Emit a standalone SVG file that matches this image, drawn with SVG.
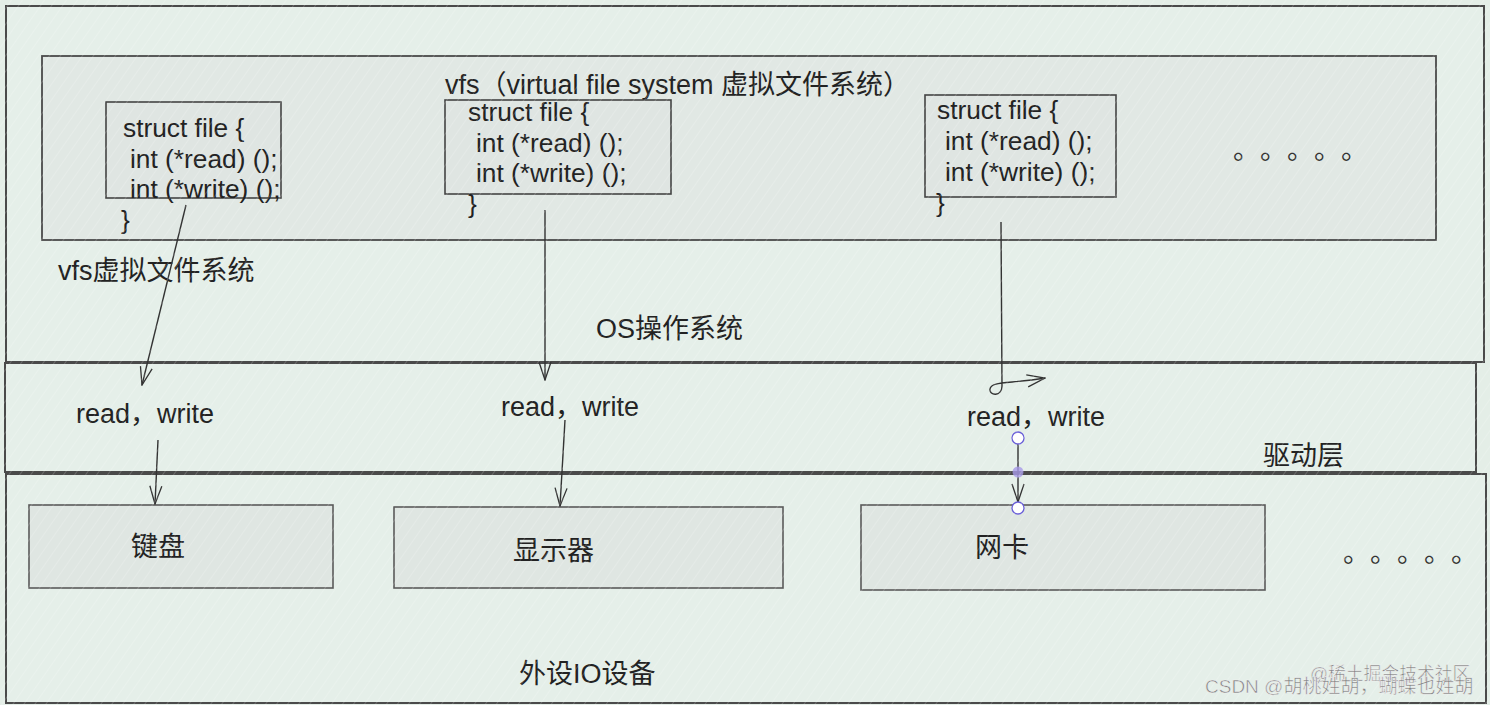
<svg xmlns="http://www.w3.org/2000/svg" width="1490" height="705" viewBox="0 0 1490 705">
<defs>
<pattern id="hatch" width="9" height="9" patternUnits="userSpaceOnUse" patternTransform="rotate(35)">
<line x1="0" y1="0" x2="0" y2="9" stroke="#ffffff" stroke-width="1" stroke-opacity="0.35"/>
</pattern>
<marker id="arr" viewBox="0 0 20 14" refX="19" refY="7" markerWidth="20" markerHeight="14" markerUnits="userSpaceOnUse" orient="auto">
<path d="M1,1 L19,7 L1,13" fill="none" stroke="#333" stroke-width="1.3"/>
</marker>
</defs>
<style>
.layer{fill:#e5efe9;stroke:#4a4a4a;stroke-width:2}
.vfs{fill:#e1e8e4;stroke:#4a4a4a;stroke-width:1.8}
.sbox{fill:#dfe5e2;stroke:#444;stroke-width:1.6}
.dev{fill:#dfe6e2;stroke:#5a5a5a;stroke-width:1.6}
.t{font-family:"Liberation Sans","Noto Sans CJK SC",sans-serif;font-size:26.3px;fill:#222}
.c{font-family:"Liberation Sans","Noto Sans CJK SC",sans-serif;font-size:27px;fill:#222}
.dots{font-family:"Noto Sans CJK SC",sans-serif;font-size:27px;fill:#333;letter-spacing:13.5px}
.wm{font-family:"Liberation Sans","Noto Sans CJK SC",sans-serif;fill:#808080;stroke:#f4f4f4;stroke-width:0.5}
.conn{fill:none;stroke:#333;stroke-width:1.4}
.h{fill:url(#hatch);stroke:none}
</style>
<rect x="0" y="0" width="1490" height="705" fill="#e4eee7"/>

<g id="os-layer">
<rect class="layer" x="6" y="6" width="1478" height="356"/>
<text class="c" x="596" y="338">OS操作系统</text>
<text class="c" x="58" y="280">vfs虚拟文件系统</text>
</g>

<g id="vfs">
<rect class="vfs" x="42" y="56" width="1394" height="184"/>
<text class="c" x="445" y="94">vfs（virtual file system 虚拟文件系统）</text>
<text class="dots" x="1233" y="159">。。。。。</text>
</g>

<g id="struct1">
<rect class="sbox" x="106" y="102" width="175" height="96"/>
<text class="t" x="123" y="137">struct file {</text>
<text class="t" x="130" y="168">int (*read) ();</text>
<text class="t" x="130" y="198">int (*write) ();</text>
<text class="t" x="121" y="229">}</text>
</g>

<g id="struct2">
<rect class="sbox" x="445" y="100" width="226" height="94"/>
<text class="t" x="468" y="121">struct file {</text>
<text class="t" x="476" y="152">int (*read) ();</text>
<text class="t" x="476" y="182">int (*write) ();</text>
<text class="t" x="468" y="213">}</text>
</g>

<g id="struct3">
<rect class="sbox" x="925" y="95" width="191" height="102"/>
<text class="t" x="937" y="119">struct file {</text>
<text class="t" x="945" y="150">int (*read) ();</text>
<text class="t" x="945" y="181">int (*write) ();</text>
<text class="t" x="936" y="212">}</text>
</g>

<g id="driver-layer">
<rect class="layer" x="5" y="363" width="1471" height="109"/>
<text class="c" x="76" y="423">read，write</text>
<text class="c" x="501" y="416">read，write</text>
<text class="c" x="967" y="426">read，write</text>
<text class="c" x="1263" y="465">驱动层</text>
</g>

<g id="device-layer">
<rect class="layer" x="6" y="474" width="1480" height="229"/>
<text class="c" x="519" y="683">外设IO设备</text>
<text class="dots" x="1343" y="562">。。。。。</text>
</g>

<g id="keyboard">
<rect class="dev" x="29" y="505" width="304" height="83"/>
<text class="c" x="131" y="556">键盘</text>
</g>

<g id="display">
<rect class="dev" x="394" y="507" width="389" height="81"/>
<text class="c" x="513" y="560">显示器</text>
</g>

<g id="nic">
<rect class="dev" x="861" y="505" width="404" height="85"/>
<text class="c" x="975" y="557">网卡</text>
</g>

<g id="connectors">
<path class="conn" d="M186,205 L142,385" marker-end="url(#arr)"/>
<path class="conn" d="M158,440 L155,504" marker-end="url(#arr)"/>
<path class="conn" d="M545,210 L545,380" marker-end="url(#arr)"/>
<path class="conn" d="M565,420 L560,506" marker-end="url(#arr)"/>
<path class="conn" d="M1001,222 L1002,386 C1002,397 989,396 990,389 C991,381 1008,384 1045,378" marker-end="url(#arr)"/>
<path class="conn" d="M1018,444 L1018,502" marker-end="url(#arr)"/>
<circle cx="1018" cy="472" r="5.5" fill="#a89ae8" fill-opacity="0.8" stroke="none"/>
<circle cx="1018" cy="438" r="6" fill="#ffffff" stroke="#6a5fd8" stroke-width="1.3"/>
<circle cx="1018" cy="508" r="6" fill="#ffffff" stroke="#6a5fd8" stroke-width="1.3"/>
</g>

<rect class="h" x="0" y="0" width="1490" height="705"/>

<text class="wm" x="1310" y="680" font-size="17.8">@稀土掘金技术社区</text>
<text class="wm" x="1205" y="693" font-size="19">CSDN @胡桃姓胡，蝴蝶也姓胡</text>
</svg>
